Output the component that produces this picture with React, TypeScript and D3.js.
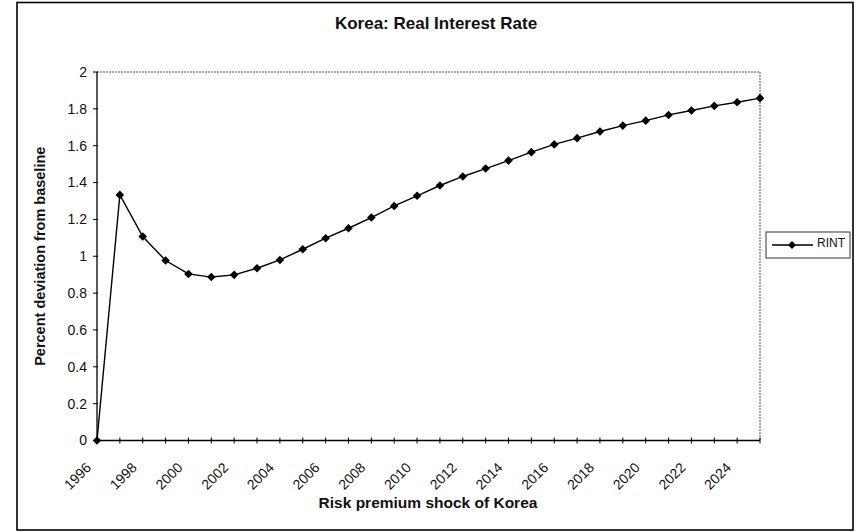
import React from "react";
import * as d3 from "d3";

const years: number[] = [
  1996, 1997, 1998, 1999, 2000, 2001, 2002, 2003, 2004, 2005,
  2006, 2007, 2008, 2009, 2010, 2011, 2012, 2013, 2014, 2015,
  2016, 2017, 2018, 2019, 2020, 2021, 2022, 2023, 2024, 2025,
];
const rint: number[] = [
  0, 1.333, 1.107, 0.977, 0.904, 0.887, 0.899, 0.935, 0.98, 1.038,
  1.098, 1.152, 1.21, 1.273, 1.328, 1.384, 1.433, 1.476, 1.519, 1.565,
  1.607, 1.641, 1.677, 1.709, 1.736, 1.767, 1.791, 1.816, 1.836, 1.858,
];
const xTickLabels: number[] = [
  1996, 1998, 2000, 2002, 2004, 2006, 2008, 2010, 2012, 2014, 2016, 2018, 2020, 2022, 2024,
];
const yTicks: number[] = [0, 0.2, 0.4, 0.6, 0.8, 1, 1.2, 1.4, 1.6, 1.8, 2];

const W = 856;
const H = 532;
const FONT = "Arial, 'Liberation Sans', Helvetica, sans-serif";

export default function App() {
  const left = 97, right = 760, top = 72, bottom = 440.5;
  const x = d3.scalePoint<number>().domain(years).range([left, right]);
  const y = d3.scaleLinear().domain([0, 2]).range([bottom, top]);
  const line = d3
    .line<number>()
    .x((_, i) => x(years[i]) as number)
    .y((d) => y(d));
  const diamond = (cx: number, cy: number, r = 4.3) =>
    `M${cx},${cy - r}L${cx + r},${cy}L${cx},${cy + r}L${cx - r},${cy}Z`;
  const fmt = (v: number) => (v === 0 ? "0" : d3.format("~g")(v));

  return (
    <svg
      width={W}
      height={H}
      style={{ position: "absolute", left: 0, top: 0, background: "#fff" }}
      fontFamily={FONT}
    >
      {/* outer frame */}
      <rect x={17} y={2.5} width={836} height={527.5} fill="#fff" stroke="#000" strokeWidth={1.6} />

      {/* title */}
      <text x={436} y={28.5} textAnchor="middle" fontSize={17} fontWeight="bold" fill="#111">
        Korea: Real Interest Rate
      </text>

      {/* plot area top/right dotted border */}
      <path
        d={`M${left},${top}H${right}V${bottom}`}
        fill="none"
        stroke="#555"
        strokeWidth={1}
        strokeDasharray="2,1"
      />

      {/* y axis */}
      <line x1={left} x2={left} y1={top} y2={bottom} stroke="#000" strokeWidth={1.3} />
      {yTicks.map((t) => (
        <g key={t}>
          <line x1={left - 4} x2={left + 1} y1={y(t)} y2={y(t)} stroke="#000" strokeWidth={1} />
          <text x={left - 10} y={y(t)} dy="0.35em" textAnchor="end" fontSize={14} fill="#111">
            {fmt(t)}
          </text>
        </g>
      ))}

      {/* x axis */}
      <line x1={left} x2={right} y1={bottom} y2={bottom} stroke="#000" strokeWidth={1.3} />
      {years.map((yr) => (
        <line
          key={yr}
          x1={x(yr) as number}
          x2={x(yr) as number}
          y1={bottom - 3}
          y2={bottom + 3}
          stroke="#000"
          strokeWidth={1}
        />
      ))}
      {xTickLabels.map((yr) => {
        const px = (x(yr) as number) - 5;
        const py = bottom + 28;
        return (
          <text
            key={yr}
            x={px}
            y={py}
            textAnchor="end"
            fontSize={14}
            fill="#111"
            transform={`rotate(-45,${px},${py})`}
          >
            {yr}
          </text>
        );
      })}

      {/* axis titles */}
      <text
        x={0}
        y={0}
        transform={`translate(45,${(top + bottom) / 2}) rotate(-90)`}
        textAnchor="middle"
        fontSize={14.5}
        fontWeight="bold"
        fill="#111"
      >
        Percent deviation from baseline
      </text>
      <text x={428} y={507.5} textAnchor="middle" fontSize={15.5} fontWeight="bold" fill="#111">
        Risk premium shock of Korea
      </text>

      {/* series */}
      <path d={line(rint) ?? ""} fill="none" stroke="#000" strokeWidth={1.4} />
      {rint.map((v, i) => (
        <path key={i} d={diamond(x(years[i]) as number, y(v))} fill="#000" />
      ))}

      {/* legend */}
      <rect x={766} y={232} width={84} height={26} fill="#fff" stroke="#333" strokeWidth={1} />
      <line x1={772} x2={813} y1={245} y2={245} stroke="#000" strokeWidth={1.4} />
      <path d={diamond(792, 245, 4)} fill="#000" />
      <text x={817} y={243} dy="0.35em" fontSize={12} fill="#111">
        RINT
      </text>
    </svg>
  );
}
